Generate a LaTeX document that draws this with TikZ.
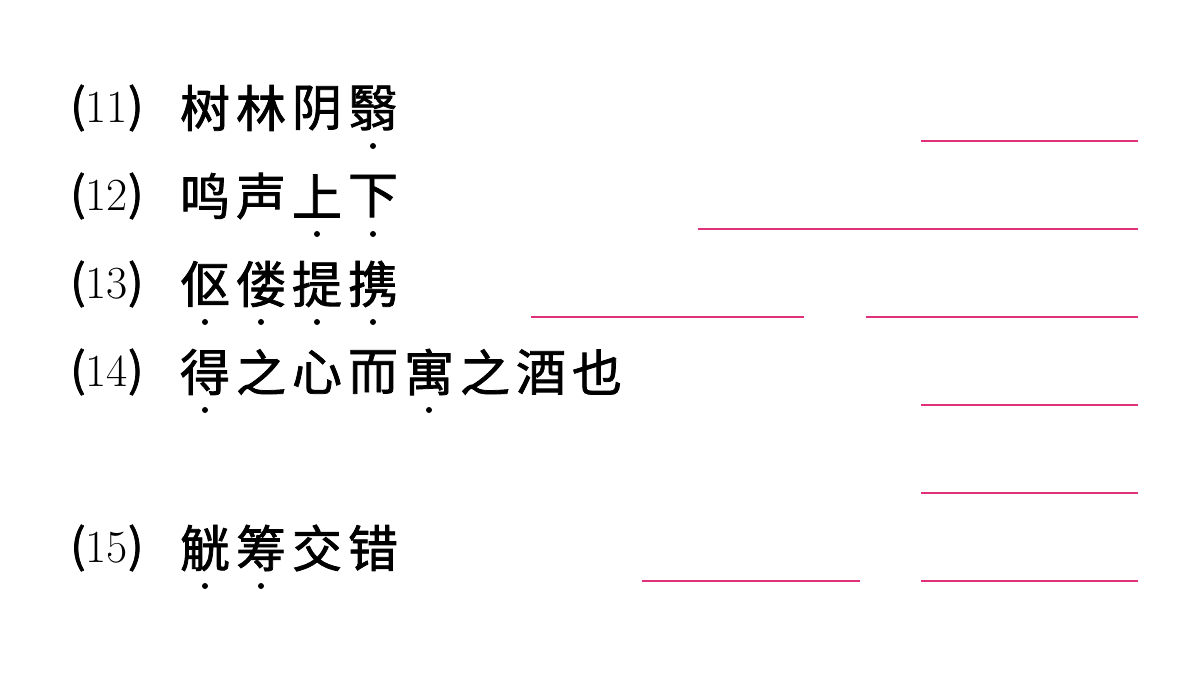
\documentclass[tikz,border=0pt]{standalone}
\usepackage{fontspec}
\newfontfamily\cjk{Noto Sans CJK SC}
\newfontfamily\cjkb[FakeBold=1.5]{Noto Sans CJK SC}
\definecolor{pk}{HTML}{E0307A}
\begin{document}
\begin{tikzpicture}[x=1pt,y=-1pt,
  lab/.style={anchor=west,inner sep=0,font=\fontsize{46}{46}\selectfont},
  ch/.style={inner sep=0,font=\cjkb\fontsize{50}{50}\selectfont},
  dotm/.style={fill=black,circle,inner sep=0,minimum size=6pt},
  ans/.style={draw=pk,line width=1.3pt}]
\useasboundingbox (0,0) rectangle (1200,675);
\newcommand\row[3]{%
  \node[lab] (l#1) at (70,#2) {{\cjkb(}#1{\cjkb)}};
  \foreach \c [count=\i] in {#3} {\node[ch] (c#1-\i) at (149+56*\i,#2) {\c};}}
\row{11}{108}{树,林,阴,翳}
\row{12}{196}{鸣,声,上,下}
\row{13}{284}{伛,偻,提,携}
\row{14}{372}{得,之,心,而,寓,之,酒,也}
\row{15}{548}{觥,筹,交,错}
\foreach \n in {11-4,12-3,12-4,13-1,13-2,13-3,13-4,14-1,14-5,15-1,15-2}
  \node[dotm] (d\n) at ([yshift=-38pt]c\n.center) {};
\foreach \y/\a/\b in {141/921/1138,229/698/1138,317/531/804,317/866/1138,405/921/1138,493/921/1138,581/642/860,581/921/1138}
  {\coordinate (s\y\a) at (\a,\y); \coordinate (e\y\a) at (\b,\y); \draw[ans] (s\y\a) -- (e\y\a);}
\end{tikzpicture}
\end{document}
